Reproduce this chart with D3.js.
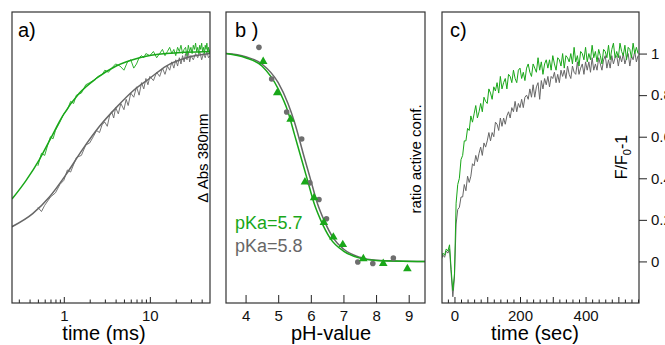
<!DOCTYPE html>
<html>
<head>
<meta charset="utf-8">
<script src="https://cdn.jsdelivr.net/npm/d3@7"></script>
<style>
  body { margin: 0; background: #fff; }
  svg { font-family: "Liberation Sans", Arial, sans-serif; }
  .tick text { font-size: 14px; fill: #111; }
  .tick line { stroke: #222; }
</style>
</head>
<body>
<div id="chart"></div>
<script>
// ---- panel a: kinetics (log time, ms) ----
const aFitGreenT = [0.25, 0.365, 0.52, 0.68, 0.97, 1.52, 2.38, 4.06, 7.6, 15.5, 50];
const aFitGreenV = [0.30, 0.39, 0.49, 0.58, 0.70, 0.81, 0.88, 0.94, 0.98, 1.0, 1.01];
const aFitGrayT = [0.25, 0.435, 0.68, 1.07, 1.66, 2.6, 4.06, 6.35, 9.9, 15.5, 26.5, 50];
const aFitGrayV = [0.167, 0.23, 0.31, 0.42, 0.54, 0.65, 0.74, 0.82, 0.88, 0.94, 0.98, 1.0];

const aGreenT = [0.5,0.55,0.6,0.65,0.7,0.75,0.8,0.9,1.0,1.1,1.2,1.3,1.4,1.6,1.8,2.0,2.2,2.5,2.8,3.0,3.3,3.6,4.0,4.5,5.0,5.5,6.0,6.5,7.0,7.5,8,8.5,9,10,11,12,13,14,15,16,17,18,19,20,21,22,23,24,25,26,27,28,29,30,31,32,33,34,35,36,37,38,39,40,41,42,43,44,45,46,47,48,49,50];
const aGreenV = [0.46,0.52,0.51,0.56,0.60,0.59,0.63,0.67,0.71,0.73,0.77,0.76,0.80,0.81,0.85,0.86,0.87,0.89,0.90,0.92,0.91,0.93,0.95,0.94,0.92,0.96,0.97,0.93,0.95,0.98,0.99,0.98,1.00,0.99,1.01,0.98,1.00,1.02,0.99,1.01,1.03,1.00,1.02,0.99,1.03,1.01,1.04,1.00,1.02,1.03,0.99,1.04,1.01,1.03,1.00,1.04,1.02,1.05,1.01,1.03,1.00,1.04,1.02,1.05,1.01,1.03,1.00,1.04,1.02,1.05,1.01,1.03,1.00,1.02];
const aGrayT = [0.5,0.55,0.6,0.7,0.8,0.9,1.0,1.1,1.2,1.4,1.6,1.8,2.0,2.2,2.4,2.6,2.8,3.0,3.2,3.4,3.6,3.8,4.0,4.3,4.6,5.0,5.3,5.6,6.0,6.5,7.0,7.5,8,8.5,9,9.5,10,11,12,13,14,15,16,17,18,19,20,21,22,23,24,25,26,27,28,29,30,32,34,36,38,40,42,44,46,48,50];
const aGrayV = [0.26,0.24,0.27,0.31,0.33,0.37,0.39,0.44,0.43,0.50,0.51,0.56,0.57,0.60,0.63,0.62,0.66,0.67,0.65,0.70,0.72,0.69,0.74,0.71,0.76,0.73,0.78,0.75,0.81,0.79,0.84,0.80,0.86,0.83,0.88,0.85,0.89,0.87,0.91,0.89,0.93,0.90,0.94,0.92,0.96,0.93,0.97,0.94,0.98,0.95,0.99,0.96,1.00,0.97,1.01,0.96,0.99,0.97,1.00,0.98,1.01,0.97,1.00,0.98,1.01,0.98,0.99];

// ---- panel b: pH titration ----
const bGrayPH = [4.41, 4.8, 5.26, 5.72, 5.97, 6.25, 6.48, 7.44, 7.9, 8.53];
const bGrayV = [1.03, 0.878, 0.719, 0.589, 0.378, 0.298, 0.205, -0.003, -0.01, 0.016];
const bGreenPH = [4.54, 4.97, 5.38, 5.82, 6.1, 6.4, 6.69, 6.98, 7.61, 8.22, 8.96];
const bGreenV = [0.962, 0.811, 0.684, 0.382, 0.306, 0.187, 0.117, 0.081, 0.013, -0.01, -0.035];
const bFitGreenPH = [3.4, 4.0, 4.5, 5.0, 5.3, 5.5, 5.7, 5.9, 6.1, 6.3, 6.6, 7.0, 7.5, 8.0, 9.5];
const bFitGreenV = [1.0, 0.98, 0.94, 0.83, 0.72, 0.61, 0.50, 0.39, 0.28, 0.20, 0.11, 0.05, 0.016, 0.005, 0.0];
const bFitGrayPH = [3.4, 4.0, 4.5, 5.0, 5.3, 5.5, 5.8, 6.0, 6.2, 6.4, 6.7, 7.0, 7.5, 8.0, 9.5];
const bFitGrayV = [1.0, 0.985, 0.95, 0.86, 0.76, 0.67, 0.50, 0.39, 0.28, 0.20, 0.11, 0.06, 0.02, 0.006, 0.0];
const bLabels = ["pKa=5.7", "pKa=5.8"];

// ---- panel c: fluorescence (t from -40 s, step 5 s) ----
const cStart = -40, cStep = 5;
const cGreen = [0.02,0.04,0.03,0.06,0.05,0.08,-0.04,-0.14,-0.06,0.28,0.37,0.40,0.49,0.51,0.58,0.58,0.64,0.63,
  0.70,0.67,0.71,0.75,0.69,0.72,0.76,0.72,0.79,0.77,
  0.76,0.83,0.81,0.78,0.84,0.82,0.86,0.81,0.89,0.83,
  0.86,0.88,0.83,0.90,0.89,0.86,0.92,0.88,0.86,0.92,
  0.93,0.88,0.91,0.87,0.93,0.95,0.91,0.89,0.95,0.93,
  0.91,0.98,0.92,0.96,0.90,0.95,0.97,0.93,0.97,0.92,
  0.99,0.95,0.92,0.98,0.97,0.94,1.00,0.93,0.99,0.98,
  0.96,1.00,0.95,1.03,0.96,0.99,0.94,1.01,1.00,0.97,
  1.03,0.96,1.00,0.97,1.04,0.98,1.01,0.96,1.02,0.99,
  0.95,1.02,1.01,0.98,1.04,0.97,1.02,1.05,0.98,1.01,
  0.98,1.05,1.01,0.99,1.04,0.97,1.03,1.02,0.98,1.05,
  1.00,1.03,1.00];
const cGray = [0.01,0.03,0.02,0.05,0.04,0.06,-0.06,-0.17,-0.08,0.18,0.25,0.26,0.31,0.31,0.37,0.34,0.41,0.38,
  0.41,0.47,0.46,0.51,0.48,0.52,0.55,0.51,0.57,0.55,
  0.58,0.62,0.58,0.62,0.60,0.67,0.66,0.63,0.69,0.65,
  0.69,0.66,0.70,0.72,0.69,0.74,0.72,0.77,0.72,0.76,
  0.74,0.78,0.74,0.79,0.80,0.78,0.83,0.79,0.85,0.79,
  0.84,0.86,0.78,0.87,0.83,0.88,0.85,0.89,0.84,0.89,
  0.88,0.91,0.86,0.90,0.86,0.92,0.89,0.92,0.88,0.94,
  0.90,0.88,0.94,0.91,0.90,0.96,0.90,0.93,0.95,0.90,
  0.96,0.92,0.96,0.91,0.98,0.92,0.95,0.92,0.98,0.95,
  0.92,0.97,0.99,0.93,0.97,0.93,0.99,0.95,0.98,0.99,
  0.94,0.99,0.96,1.00,0.95,0.98,1.00,0.94,0.99,0.97,
  1.01,0.96,0.99];
const cYTicks = [0, 0.2, 0.4, 0.6, 0.8, 1];

const green = "#19a719", gray = "#676767";
const width = 665, height = 345;
const plotTop = 12, plotBottom = 303;

const svg = d3.select("#chart").append("svg")
    .attr("width", width).attr("height", height);

const yScale = d3.scaleLinear().domain([-0.2, 1.2]).range([plotBottom, plotTop]);

function zip(xs, ys) { return xs.map((x, i) => [x, ys[i]]); }

function frame(x0, x1, id) {
    svg.append("defs").append("clipPath").attr("id", id)
        .append("rect").attr("x", x0).attr("y", plotTop).attr("width", x1 - x0).attr("height", plotBottom - plotTop);
    return svg.append("g").attr("clip-path", `url(#${id})`);
}
function border(x0, x1) {
    svg.append("rect").attr("x", x0).attr("y", plotTop).attr("width", x1 - x0).attr("height", plotBottom - plotTop)
        .attr("fill", "none").attr("stroke", "#333").attr("stroke-width", 1.2);
}
function bottomTicks(scale, values, size, labels) {
    const ax = svg.append("g").attr("transform", `translate(0,${plotBottom})`)
        .call(d3.axisBottom(scale).tickValues(values).tickSize(-size).tickPadding(7)
            .tickFormat(d3.format("")));
    ax.select(".domain").remove();
    if (labels) ax.selectAll("text").style("font-size", "15px");
    else ax.selectAll("text").remove();
    return ax;
}
function title(x, txt) {
    svg.append("text").attr("x", x).attr("y", 37).attr("font-size", 20).text(txt);
}
function xLabel(x, txt) {
    svg.append("text").attr("x", x).attr("y", 340).attr("text-anchor", "middle")
        .attr("font-size", 20).text(txt);
}

// ===== panel a =====
const ax0 = 12, ax1 = 210;
const xA = d3.scaleLog().domain([0.25, 50]).range([ax0, ax1]);
const gA = frame(ax0, ax1, "clipA");
const lineA = d3.line().x(d => xA(d[0])).y(d => yScale(d[1]));
const lineAs = d3.line().x(d => xA(d[0])).y(d => yScale(d[1])).curve(d3.curveMonotoneX);

gA.append("path").datum(zip(aGrayT, aGrayV)).attr("d", lineA)
    .attr("fill", "none").attr("stroke", gray).attr("stroke-width", 0.9);
gA.append("path").datum(zip(aFitGrayT, aFitGrayV)).attr("d", lineAs)
    .attr("fill", "none").attr("stroke", gray).attr("stroke-width", 1.5);
gA.append("path").datum(zip(aGreenT, aGreenV)).attr("d", lineA)
    .attr("fill", "none").attr("stroke", green).attr("stroke-width", 0.9);
gA.append("path").datum(zip(aFitGreenT, aFitGreenV)).attr("d", lineAs)
    .attr("fill", "none").attr("stroke", green).attr("stroke-width", 1.5);

const aMinor = [0.3,0.4,0.5,0.6,0.7,0.8,0.9,2,3,4,5,6,7,8,9,20,30,40];
bottomTicks(xA, aMinor, 3.5, false);
bottomTicks(xA, [1, 10], 6, true);
border(ax0, ax1);
title(18, "a)");
xLabel(104, "time (ms)");
svg.append("text").attr("transform", "translate(208,158) rotate(-90)")
    .attr("text-anchor", "middle").attr("font-size", 15).text("\u0394 Abs 380nm");

// ===== panel b =====
const bx0 = 226, bx1 = 425;
const xB = d3.scaleLinear().domain([3.4, 9.5]).range([bx0, bx1]);
const gB = frame(bx0, bx1, "clipB");
const lineB = d3.line().x(d => xB(d[0])).y(d => yScale(d[1])).curve(d3.curveMonotoneX);

gB.append("path").datum(zip(bFitGrayPH, bFitGrayV)).attr("d", lineB)
    .attr("fill", "none").attr("stroke", gray).attr("stroke-width", 1.5);
gB.append("path").datum(zip(bFitGreenPH, bFitGreenV)).attr("d", lineB)
    .attr("fill", "none").attr("stroke", green).attr("stroke-width", 1.5);

gB.selectAll("circle").data(zip(bGrayPH, bGrayV)).enter().append("circle")
    .attr("cx", d => xB(d[0])).attr("cy", d => yScale(d[1])).attr("r", 2.8)
    .attr("fill", "#6e6e6e");
const tri = d3.symbol().type(d3.symbolTriangle).size(32);
gB.selectAll("path.tri").data(zip(bGreenPH, bGreenV)).enter().append("path")
    .attr("class", "tri").attr("d", tri)
    .attr("transform", d => `translate(${xB(d[0])},${yScale(d[1])})`)
    .attr("fill", green);

bottomTicks(xB, [4, 5, 6, 7, 8, 9], 8, true);
border(bx0, bx1);
title(235, "b )");
xLabel(331, "pH-value");
svg.append("text").attr("x", 235).attr("y", 229).attr("font-size", 18)
    .attr("fill", green).text(bLabels[0]);
svg.append("text").attr("x", 235).attr("y", 252).attr("font-size", 18)
    .attr("fill", gray).text(bLabels[1]);
svg.append("text").attr("transform", "translate(421,159) rotate(-90)")
    .attr("text-anchor", "middle").attr("font-size", 15).text("ratio active conf.");

// ===== panel c =====
const cx0 = 442, cx1 = 639;
const xC = d3.scaleLinear().domain([-38, 563]).range([cx0, cx1]);
const gC = frame(cx0, cx1, "clipC");
const lineC = d3.line().x((d, i) => xC(cStart + i * cStep)).y(d => yScale(d));

gC.append("path").datum(cGray).attr("d", lineC)
    .attr("fill", "none").attr("stroke", gray).attr("stroke-width", 1);
gC.append("path").datum(cGreen).attr("d", lineC)
    .attr("fill", "none").attr("stroke", green).attr("stroke-width", 1);

const cMinor = d3.range(-20, 561, 20).filter(v => v % 100 !== 0);
bottomTicks(xC, cMinor, 3.5, false);
bottomTicks(xC, [0, 100, 200, 300, 400, 500], 6, false);
const cLab = svg.append("g").attr("transform", `translate(0,${plotBottom})`)
    .call(d3.axisBottom(xC).tickValues([0, 200, 400]).tickSize(0).tickPadding(7));
cLab.select(".domain").remove();
cLab.selectAll("text").style("font-size", "15px");

const yAxC = svg.append("g").attr("transform", `translate(${cx1},0)`)
    .call(d3.axisRight(yScale).tickValues(cYTicks).tickSize(8).tickPadding(4)
        .tickFormat(d3.format("")));
yAxC.select(".domain").remove();
yAxC.selectAll("text").style("font-size", "15px");
border(cx0, cx1);
title(450, "c)");
xLabel(535, "time (sec)");

const fl = svg.append("text").attr("transform", "translate(627,157) rotate(-90)")
    .attr("text-anchor", "middle").attr("font-size", 16);
fl.append("tspan").text("F/F");
fl.append("tspan").attr("font-size", 11).attr("dy", 4).text("0");
fl.append("tspan").attr("dy", -4).text("-1");
</script>
</body>
</html>
